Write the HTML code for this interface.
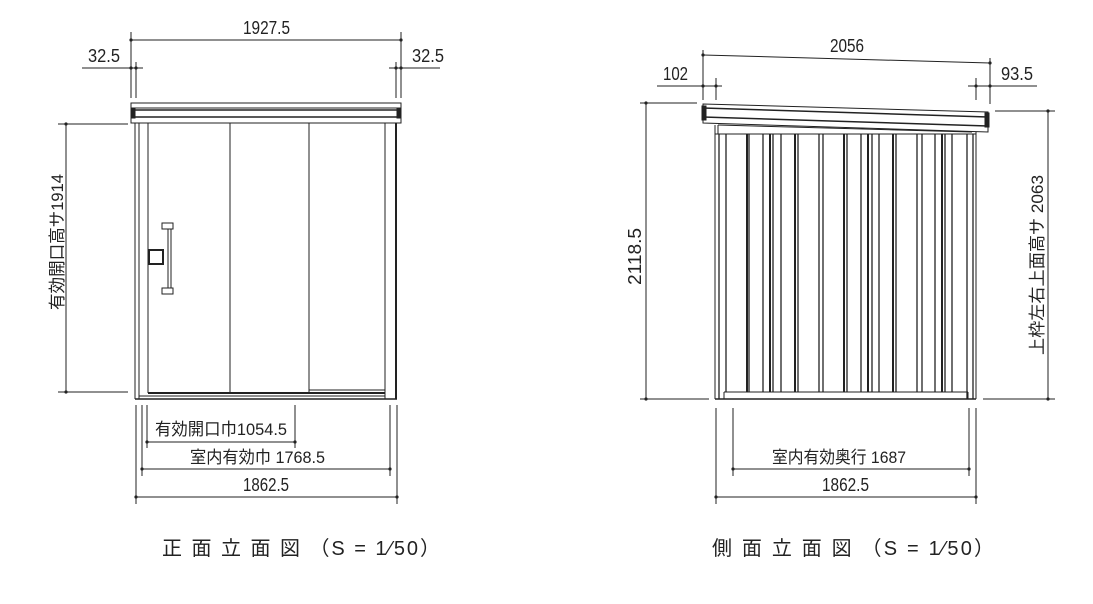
<!DOCTYPE html>
<html><head><meta charset="utf-8"><style>
html,body{margin:0;padding:0;background:#fff;}
svg{display:block;}
text{font-family:"Liberation Sans","Noto Sans CJK JP",sans-serif;fill:#222;}
</style></head><body>
<svg width="1093" height="604" viewBox="0 0 1093 604" xmlns="http://www.w3.org/2000/svg">
<g stroke="#222" stroke-width="1" fill="none">
<rect x="131" y="103" width="270" height="20"/>
<line x1="131" y1="108" x2="401" y2="108"/>
<line x1="131" y1="110" x2="401" y2="110" stroke-width="1.5"/>
<line x1="131" y1="117" x2="401" y2="117" stroke-width="1.5"/>
<rect x="131" y="108" width="4" height="10" fill="#222"/>
<rect x="397" y="108" width="4" height="10" fill="#222"/>
<line x1="135" y1="123" x2="135" y2="399"/>
<line x1="139" y1="123" x2="139" y2="399"/>
<line x1="148" y1="123" x2="148" y2="393"/>
<line x1="230" y1="123" x2="230" y2="393"/>
<line x1="309" y1="123" x2="309" y2="393"/>
<line x1="385" y1="123" x2="385" y2="399"/>
<line x1="396" y1="123" x2="396" y2="399" stroke-width="2"/>
<line x1="135" y1="399" x2="397" y2="399" stroke-width="1.5"/>
<line x1="148" y1="393" x2="385" y2="393" stroke-width="2"/>
<line x1="309" y1="390" x2="385" y2="390"/>
<line x1="139" y1="396" x2="385" y2="396"/>
<rect x="162" y="223" width="11" height="6"/>
<rect x="162" y="288" width="11" height="6"/>
<line x1="168" y1="229" x2="168" y2="288"/>
<line x1="171" y1="229" x2="171" y2="288"/>
<rect x="149" y="250" width="14" height="14" stroke-width="2"/>
<line x1="131" y1="40" x2="401" y2="40"/>
<line x1="131" y1="32" x2="131" y2="98"/>
<line x1="401" y1="32" x2="401" y2="98"/>
<line x1="136" y1="62" x2="136" y2="98"/>
<line x1="396" y1="62" x2="396" y2="98"/>
<line x1="82" y1="68" x2="143" y2="68"/>
<line x1="389" y1="68" x2="440" y2="68"/>
<line x1="66" y1="124" x2="66" y2="392"/>
<line x1="58" y1="124" x2="128" y2="124"/>
<line x1="58" y1="392" x2="128" y2="392"/>
<line x1="147" y1="442" x2="295" y2="442"/>
<line x1="147" y1="405" x2="147" y2="448"/>
<line x1="295" y1="405" x2="295" y2="448"/>
<line x1="142" y1="469" x2="390" y2="469"/>
<line x1="142" y1="405" x2="142" y2="476"/>
<line x1="390" y1="405" x2="390" y2="476"/>
<line x1="136" y1="497" x2="397" y2="497"/>
<line x1="136" y1="405" x2="136" y2="504"/>
<line x1="397" y1="405" x2="397" y2="504"/>

<polygon points="703,104 988,112 988,132 703,123"/>
<line x1="703" y1="108" x2="988" y2="117" stroke-width="1.5"/>
<line x1="703" y1="117" x2="988" y2="126" stroke-width="1.5"/>
<rect x="702" y="106" width="4" height="14" fill="#222"/>
<rect x="985" y="113" width="4" height="14" fill="#222"/>
<line x1="718" y1="125" x2="972" y2="132"/>
<line x1="718" y1="125" x2="718" y2="134"/>
<line x1="715" y1="134" x2="976" y2="134"/>
<line x1="715" y1="125" x2="715" y2="399"/>
<line x1="976" y1="132" x2="976" y2="399"/>
<line x1="715" y1="399" x2="976" y2="399" stroke-width="1.5"/>
<line x1="724" y1="392" x2="968" y2="392"/>
<line x1="724" y1="392" x2="724" y2="399"/>
<line x1="968" y1="392" x2="968" y2="399"/>
<g stroke-width="1.3">
<line x1="719" y1="134" x2="719" y2="399"/><line x1="726" y1="134" x2="726" y2="392"/>
<line x1="747" y1="134" x2="747" y2="392" stroke-width="2"/><line x1="749" y1="134" x2="749" y2="392"/>
<line x1="763" y1="134" x2="763" y2="392"/>
<line x1="770" y1="134" x2="770" y2="392" stroke-width="2"/><line x1="773" y1="134" x2="773" y2="392"/>
<line x1="781" y1="134" x2="781" y2="392"/>
<line x1="795" y1="134" x2="795" y2="392" stroke-width="2"/><line x1="798" y1="134" x2="798" y2="392"/>
<line x1="819" y1="134" x2="819" y2="392"/><line x1="823" y1="134" x2="823" y2="392"/>
<line x1="844" y1="134" x2="844" y2="392" stroke-width="2"/><line x1="847" y1="134" x2="847" y2="392"/>
<line x1="861" y1="134" x2="861" y2="392"/>
<line x1="868" y1="134" x2="868" y2="392" stroke-width="2"/><line x1="872" y1="134" x2="872" y2="392"/>
<line x1="879" y1="134" x2="879" y2="392"/>
<line x1="893" y1="134" x2="893" y2="392" stroke-width="2"/><line x1="896" y1="134" x2="896" y2="392"/>
<line x1="917" y1="134" x2="917" y2="392"/><line x1="922" y1="134" x2="922" y2="392"/>
<line x1="935" y1="134" x2="935" y2="392"/>
<line x1="942" y1="134" x2="942" y2="392" stroke-width="2"/><line x1="945" y1="134" x2="945" y2="392"/>
<line x1="952" y1="134" x2="952" y2="392"/>
<line x1="967" y1="134" x2="967" y2="399"/><line x1="973" y1="134" x2="973" y2="399"/>
</g>
<line x1="703" y1="55" x2="990" y2="63"/>
<line x1="703" y1="50" x2="703" y2="100"/>
<line x1="990" y1="58" x2="990" y2="104"/>
<line x1="716" y1="78" x2="716" y2="100"/>
<line x1="976" y1="78" x2="976" y2="100"/>
<line x1="657" y1="86" x2="722" y2="86"/>
<line x1="968" y1="86" x2="1037" y2="86"/>
<line x1="646" y1="103" x2="646" y2="399"/>
<line x1="640" y1="103" x2="697" y2="103"/>
<line x1="640" y1="399" x2="709" y2="399"/>
<line x1="1048" y1="111" x2="1048" y2="399"/>
<line x1="995" y1="111" x2="1055" y2="111"/>
<line x1="983" y1="399" x2="1055" y2="399"/>
<line x1="733" y1="469" x2="969" y2="469"/>
<line x1="733" y1="408" x2="733" y2="476"/>
<line x1="969" y1="408" x2="969" y2="476"/>
<line x1="716" y1="497" x2="976" y2="497"/>
<line x1="716" y1="408" x2="716" y2="504"/>
<line x1="976" y1="408" x2="976" y2="504"/>
</g>
<g fill="#222">
<circle cx="131" cy="40" r="1.6"/><circle cx="401" cy="40" r="1.6"/>
<circle cx="131" cy="68" r="1.6"/><circle cx="136" cy="68" r="1.6"/>
<circle cx="396" cy="68" r="1.6"/><circle cx="401" cy="68" r="1.6"/>
<circle cx="66" cy="124" r="1.6"/><circle cx="66" cy="392" r="1.6"/>
<circle cx="147" cy="442" r="1.6"/><circle cx="295" cy="442" r="1.6"/>
<circle cx="142" cy="469" r="1.6"/><circle cx="390" cy="469" r="1.6"/>
<circle cx="136" cy="497" r="1.6"/><circle cx="397" cy="497" r="1.6"/>
<circle cx="703" cy="55" r="1.6"/><circle cx="990" cy="63" r="1.6"/>
<circle cx="703" cy="86" r="1.6"/><circle cx="716" cy="86" r="1.6"/>
<circle cx="976" cy="86" r="1.6"/><circle cx="990" cy="86" r="1.6"/>
<circle cx="646" cy="103" r="1.6"/><circle cx="646" cy="399" r="1.6"/>
<circle cx="1048" cy="111" r="1.6"/><circle cx="1048" cy="399" r="1.6"/>
<circle cx="733" cy="469" r="1.6"/><circle cx="969" cy="469" r="1.6"/>
<circle cx="716" cy="497" r="1.6"/><circle cx="976" cy="497" r="1.6"/>
</g>
<g font-size="18" lengthAdjust="spacingAndGlyphs">
<text x="243" y="34" textLength="47" lengthAdjust="spacingAndGlyphs">1927.5</text>
<text x="88" y="62" textLength="32" lengthAdjust="spacingAndGlyphs">32.5</text>
<text x="412" y="62" textLength="32" lengthAdjust="spacingAndGlyphs">32.5</text>
<text x="155" y="435" font-size="17" textLength="132" lengthAdjust="spacingAndGlyphs">有効開口巾1054.5</text>
<text x="190" y="463" font-size="17" textLength="135" lengthAdjust="spacingAndGlyphs">室内有効巾 1768.5</text>
<text x="243" y="491" textLength="46" lengthAdjust="spacingAndGlyphs">1862.5</text>
<text transform="translate(63,310) rotate(-90)" font-size="17" textLength="136" lengthAdjust="spacingAndGlyphs">有効開口高サ1914</text>
<text x="830" y="52" textLength="34" lengthAdjust="spacingAndGlyphs">2056</text>
<text x="663" y="80" textLength="25" lengthAdjust="spacingAndGlyphs">102</text>
<text x="1001" y="80" textLength="32" lengthAdjust="spacingAndGlyphs">93.5</text>
<text transform="translate(641,285) rotate(-90)" textLength="57" lengthAdjust="spacingAndGlyphs">2118.5</text>
<text transform="translate(1043,355) rotate(-90)" font-size="17" textLength="180" lengthAdjust="spacingAndGlyphs">上枠左右上面高サ 2063</text>
<text x="772" y="463" font-size="17" textLength="134" lengthAdjust="spacingAndGlyphs">室内有効奥行 1687</text>
<text x="822" y="491" textLength="47" lengthAdjust="spacingAndGlyphs">1862.5</text>
</g>
<g font-size="20">
<text x="162" y="555" textLength="278" lengthAdjust="spacing">正 面 立 面 図 （S = 1⁄50）</text>
<text x="712" y="555" textLength="282" lengthAdjust="spacing">側 面 立 面 図 （S = 1⁄50）</text>
</g>
</svg>
</body></html>
